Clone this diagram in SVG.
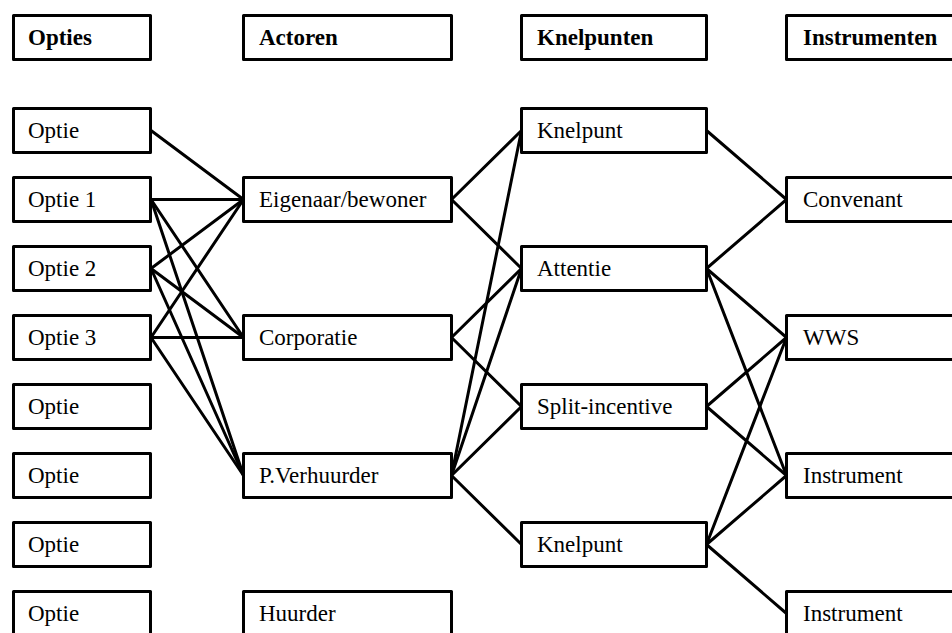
<svg xmlns="http://www.w3.org/2000/svg" width="952" height="633" viewBox="0 0 952 633">
<style>
.box{fill:#fff;stroke:#000;stroke-width:3;stroke-linejoin:round}
.c1{} 
text{font-family:"Liberation Serif","Times New Roman",serif;font-size:23px;fill:#000}
.h{font-weight:bold}
.e{stroke:#000;stroke-width:3;fill:none;stroke-linecap:round}
</style>
<rect width="952" height="633" fill="#fff"/>
<g id="connectors">
<!-- Opties to Actoren -->
<line class="e" x1="151" y1="130.5" x2="243.5" y2="199.5"/>
<line class="e" x1="151" y1="199.5" x2="243.5" y2="199.5"/>
<line class="e" x1="151" y1="199.5" x2="243.5" y2="337.5"/>
<line class="e" x1="151" y1="199.5" x2="243.5" y2="475.5"/>
<line class="e" x1="151" y1="268.5" x2="243.5" y2="199.5"/>
<line class="e" x1="151" y1="268.5" x2="243.5" y2="337.5"/>
<line class="e" x1="151" y1="268.5" x2="243.5" y2="475.5"/>
<line class="e" x1="151" y1="337.5" x2="243.5" y2="199.5"/>
<line class="e" x1="151" y1="337.5" x2="243.5" y2="337.5"/>
<line class="e" x1="151" y1="337.5" x2="243.5" y2="475.5"/>
<!-- Actoren to Knelpunten -->
<line class="e" x1="451.5" y1="199.5" x2="521.5" y2="130.5"/>
<line class="e" x1="451.5" y1="199.5" x2="521.5" y2="268.5"/>
<line class="e" x1="451.5" y1="337.5" x2="521.5" y2="268.5"/>
<line class="e" x1="451.5" y1="337.5" x2="521.5" y2="406.5"/>
<line class="e" x1="451.5" y1="475.5" x2="521.5" y2="130.5"/>
<line class="e" x1="451.5" y1="475.5" x2="521.5" y2="268.5"/>
<line class="e" x1="451.5" y1="475.5" x2="521.5" y2="406.5"/>
<line class="e" x1="451.5" y1="475.5" x2="521.5" y2="544.5"/>
<!-- Knelpunten to Instrumenten -->
<line class="e" x1="706.5" y1="130.5" x2="786.5" y2="199.5"/>
<line class="e" x1="706.5" y1="268.5" x2="786.5" y2="199.5"/>
<line class="e" x1="706.5" y1="268.5" x2="786.5" y2="337.5"/>
<line class="e" x1="706.5" y1="268.5" x2="786.5" y2="475.5"/>
<line class="e" x1="706.5" y1="406.5" x2="786.5" y2="337.5"/>
<line class="e" x1="706.5" y1="406.5" x2="786.5" y2="475.5"/>
<line class="e" x1="706.5" y1="544.5" x2="786.5" y2="337.5"/>
<line class="e" x1="706.5" y1="544.5" x2="786.5" y2="475.5"/>
<line class="e" x1="706.5" y1="544.5" x2="786.5" y2="613.5"/>
</g>
<!-- Column 1 -->
<g id="opties"><rect class="box" x="13.5" y="15.5" width="137" height="44"/><text class="h" x="28" y="45">Opties</text></g>
<g id="optie-a"><rect class="box" x="13.5" y="108.5" width="137" height="44"/><text x="28" y="138">Optie</text></g>
<g id="optie-1"><rect class="box" x="13.5" y="177.5" width="137" height="44"/><text x="28" y="207">Optie 1</text></g>
<g id="optie-2"><rect class="box" x="13.5" y="246.5" width="137" height="44"/><text x="28" y="276">Optie 2</text></g>
<g id="optie-3"><rect class="box" x="13.5" y="315.5" width="137" height="44"/><text x="28" y="345">Optie 3</text></g>
<g id="optie-b"><rect class="box" x="13.5" y="384.5" width="137" height="44"/><text x="28" y="414">Optie</text></g>
<g id="optie-c"><rect class="box" x="13.5" y="453.5" width="137" height="44"/><text x="28" y="483">Optie</text></g>
<g id="optie-d"><rect class="box" x="13.5" y="522.5" width="137" height="44"/><text x="28" y="552">Optie</text></g>
<g id="optie-e"><rect class="box" x="13.5" y="591.5" width="137" height="44"/><text x="28" y="621">Optie</text></g>
<!-- Column 2 -->
<g id="actoren"><rect class="box" x="243.5" y="15.5" width="208" height="44"/><text class="h" x="259" y="45">Actoren</text></g>
<g id="eigenaar"><rect class="box" x="243.5" y="177.5" width="208" height="44"/><text x="259" y="207">Eigenaar/bewoner</text></g>
<g id="corporatie"><rect class="box" x="243.5" y="315.5" width="208" height="44"/><text x="259" y="345">Corporatie</text></g>
<g id="pverhuurder"><rect class="box" x="243.5" y="453.5" width="208" height="44"/><text x="259" y="483">P.Verhuurder</text></g>
<g id="huurder"><rect class="box" x="243.5" y="591.5" width="208" height="44"/><text x="259" y="621">Huurder</text></g>
<!-- Column 3 -->
<g id="knelpunten"><rect class="box" x="521.5" y="15.5" width="185" height="44"/><text class="h" x="537" y="45">Knelpunten</text></g>
<g id="knelpunt-a"><rect class="box" x="521.5" y="108.5" width="185" height="44"/><text x="537" y="138">Knelpunt</text></g>
<g id="attentie"><rect class="box" x="521.5" y="246.5" width="185" height="44"/><text x="537" y="276">Attentie</text></g>
<g id="split"><rect class="box" x="521.5" y="384.5" width="185" height="44"/><text x="537" y="414">Split-incentive</text></g>
<g id="knelpunt-b"><rect class="box" x="521.5" y="522.5" width="185" height="44"/><text x="537" y="552">Knelpunt</text></g>
<!-- Column 4 -->
<g id="instrumenten"><rect class="box" x="786.5" y="15.5" width="200" height="44"/><text class="h" x="803" y="45">Instrumenten</text></g>
<g id="convenant"><rect class="box" x="786.5" y="177.5" width="200" height="44"/><text x="803" y="207">Convenant</text></g>
<g id="wws"><rect class="box" x="786.5" y="315.5" width="200" height="44"/><text x="803" y="345">WWS</text></g>
<g id="instrument-a"><rect class="box" x="786.5" y="453.5" width="200" height="44"/><text x="803" y="483">Instrument</text></g>
<g id="instrument-b"><rect class="box" x="786.5" y="591.5" width="200" height="44"/><text x="803" y="621">Instrument</text></g>
</svg>
